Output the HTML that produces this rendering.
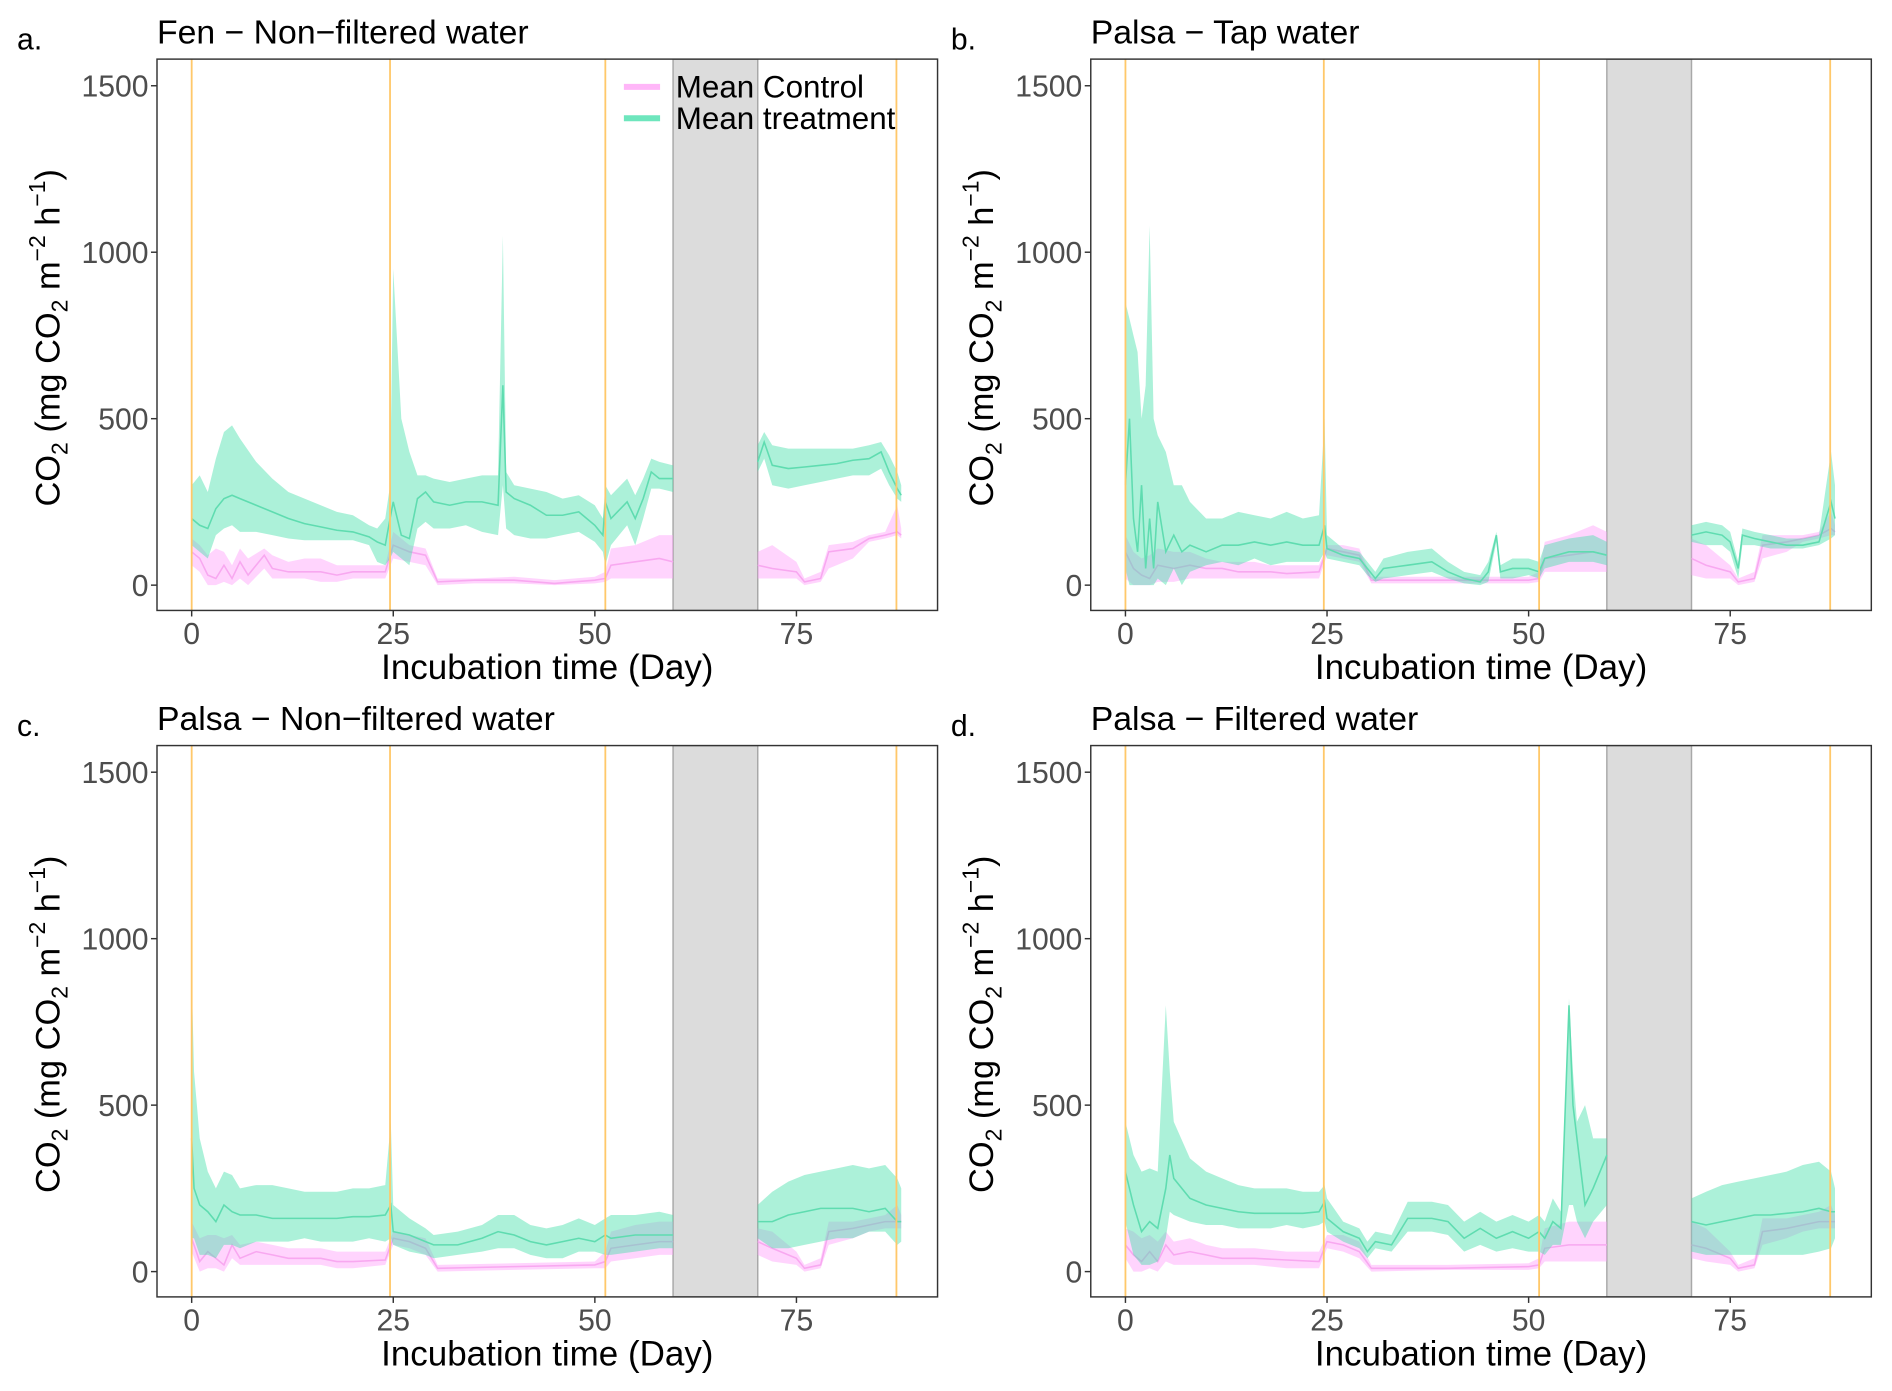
<!DOCTYPE html>
<html><head><meta charset="utf-8"><style>
html,body{margin:0;padding:0;background:#fff}
svg{display:block}
text{font-family:"Liberation Sans",Arial,sans-serif}
</style></head><body>
<svg id="chart" width="1892" height="1391" viewBox="0 0 1568 1153" xmlns="http://www.w3.org/2000/svg"></svg>
<script>
const xTicks=[0,25,50,75];
const yTicks=[0,500,1000,1500];
const yTickLabels=["0","500","1000","1500"];
const eventDays=[0,24.6,51.3,87.4];
const grayBand=[59.7,70.2];
const panelTitles=["Fen \u2212 Non\u2212filtered water","Palsa \u2212 Tap water","Palsa \u2212 Non\u2212filtered water","Palsa \u2212 Filtered water"];
const panelLetters=["a.","b.","c.","d."];

// treatment: [day, mean, lo, hi]; null breaks line at gap
const treatA=[[0,200,120,300],[1,180,100,330],[2,170,80,280],[3,230,150,380],[4,260,170,460],[5,270,180,480],[6,260,160,440],[8,240,160,370],[10,220,150,320],[12,200,140,280],[14,185,135,260],[16,175,135,240],[18,165,135,220],[20,160,135,210],[22,145,120,180],[23,130,70,170],[24,120,60,200],[24.6,200,80,300],[25,250,100,950],[26,150,80,500],[27,140,60,400],[28,260,170,330],[29,280,190,330],[30,250,170,320],[32,240,170,310],[34,250,180,320],[36,250,160,330],[38,240,150,330],[38.6,600,300,1050],[39,280,170,340],[40,260,150,300],[42,240,140,290],[44,210,140,280],[46,210,150,260],[48,220,160,270],[50,180,130,240],[51,150,100,200],[51.3,250,60,300],[52,200,120,270],[54,250,180,320],[55,200,120,270],[56,260,200,320],[57,340,290,380],[58,320,290,370],[59.7,320,280,360],null,[70.2,370,340,420],[71,430,380,460],[72,360,300,420],[74,350,290,410],[76,355,300,410],[78,360,310,410],[80,365,320,410],[82,375,330,410],[84,380,330,420],[85.5,400,350,430],[86.5,340,300,390],[87.5,290,260,340],[88,270,250,300]];
const ctrlA=[[0,100,60,140],[1,80,40,120],[2,30,0,90],[3,20,0,110],[4,60,10,100],[5,20,0,60],[6,70,20,110],[7,30,0,80],[9,90,50,110],[10,50,20,90],[12,40,20,70],[14,40,20,80],[16,40,10,80],[18,30,10,60],[20,40,20,60],[22,40,20,60],[24,40,20,60],[25,120,80,160],[27,100,70,120],[29,90,60,110],[30.5,10,0,20],[35,15,5,20],[40,15,5,25],[45,5,0,15],[50,15,5,25],[51.3,20,10,40],[52,60,20,110],[55,70,20,120],[58,80,20,150],[59.7,70,20,150],null,[70.2,60,20,100],[72,50,20,120],[75,40,20,70],[76,10,0,20],[78,20,10,40],[79,100,50,120],[82,110,80,130],[84,140,130,150],[86,150,140,160],[87.5,160,150,240],[88,150,140,170]];
const treatB=[[0,300,50,850],[0.5,500,0,800],[1,200,0,750],[1.5,100,0,700],[2,300,0,500],[2.5,50,0,600],[3,200,0,1080],[3.5,50,0,500],[4,250,20,450],[5,100,0,400],[6,150,50,300],[7,100,0,300],[8,120,40,250],[10,100,60,200],[12,120,70,200],[14,120,60,220],[16,130,80,210],[18,120,60,200],[20,130,70,220],[22,120,70,200],[24,120,70,210],[24.7,180,100,500],[25,110,80,150],[27,90,70,110],[29,80,60,100],[30,50,30,70],[31,20,10,40],[32,50,20,80],[35,60,30,100],[38,70,40,110],[40,40,20,70],[42,20,5,40],[44,10,0,30],[45,40,10,70],[46,150,130,160],[46.5,40,20,60],[48,50,20,80],[50,50,30,80],[51.3,40,20,70],[52,80,50,120],[55,100,70,140],[58,100,70,150],[59.7,90,60,130],null,[70.2,150,130,180],[72,160,120,190],[74,150,120,180],[75,130,100,160],[76,50,20,70],[76.5,150,120,170],[78,140,120,160],[80,130,110,150],[82,120,110,140],[84,120,110,140],[86,130,120,150],[87.5,250,140,400],[88,200,150,300]];
const ctrlB=[[0,100,20,150],[1,50,0,100],[2,30,0,80],[3,20,0,90],[4,60,10,110],[6,50,10,100],[8,60,20,100],[10,50,20,80],[12,50,20,70],[14,40,20,70],[16,40,20,70],[18,40,20,60],[20,35,20,60],[24,40,20,60],[25,110,90,120],[27,100,80,120],[29,90,70,110],[30.5,15,5,25],[40,15,5,25],[50,15,5,25],[51.3,20,10,40],[52,80,40,130],[55,90,40,150],[58,100,40,180],[59.7,90,40,160],null,[70.2,80,30,140],[72,60,20,120],[75,40,20,60],[76,10,0,20],[78,20,10,40],[79,120,80,150],[82,130,100,150],[84,140,130,150],[86,150,140,160],[87.5,170,150,220],[88,160,150,180]];
const treatC=[[0,400,100,900],[0.3,250,100,600],[1,200,50,400],[2,180,50,300],[3,150,40,250],[4,200,80,300],[5,180,80,290],[6,170,70,250],[8,170,90,260],[10,160,90,260],[12,160,90,250],[14,160,100,240],[16,160,90,240],[18,160,90,240],[20,165,90,250],[22,165,100,250],[24,170,90,260],[24.7,200,100,450],[25,120,80,200],[27,110,60,160],[29,90,50,130],[30,80,40,110],[33,80,50,120],[36,100,60,140],[38,120,70,170],[40,110,70,170],[42,90,50,140],[44,80,40,130],[46,90,40,140],[48,100,60,160],[50,90,60,140],[51.3,110,50,160],[52,100,50,170],[55,110,60,170],[58,110,70,180],[59.7,110,70,170],null,[70.2,150,100,200],[72,150,70,240],[74,170,70,270],[76,180,80,290],[78,190,90,300],[80,190,100,310],[82,190,100,320],[84,180,120,310],[86,190,120,320],[87.5,150,80,280],[88,150,90,250]];
const ctrlC=[[0,100,60,150],[1,30,0,100],[2,60,10,110],[3,40,10,110],[4,20,0,100],[5,80,40,110],[6,40,20,80],[8,60,20,90],[10,50,20,80],[12,40,20,70],[14,40,20,70],[16,40,20,70],[18,30,10,60],[20,30,10,60],[24,35,20,60],[25,100,80,120],[27,90,70,110],[29,70,50,100],[30.5,10,0,20],[40,15,5,25],[50,20,10,30],[51.3,30,10,60],[52,70,30,120],[55,80,40,140],[58,90,50,150],[59.7,90,50,150],null,[70.2,90,50,130],[72,70,30,120],[75,40,20,60],[76,10,0,20],[78,20,10,40],[79,120,80,150],[82,130,100,150],[84,140,120,160],[86,150,130,170],[87.5,150,130,200],[88,150,130,170]];
const treatD=[[0,300,150,450],[1,200,50,350],[2,120,20,300],[3,150,20,310],[4,130,30,300],[5,250,100,800],[5.5,350,180,600],[6,280,170,450],[8,220,150,340],[10,200,140,300],[12,190,140,280],[14,180,130,260],[16,175,130,250],[18,175,130,250],[20,175,140,250],[22,175,130,240],[24,180,140,240],[24.7,210,150,260],[25,160,120,220],[27,120,90,150],[29,100,70,130],[30,60,40,90],[31,90,70,120],[33,80,60,110],[35,160,120,210],[38,160,120,210],[40,150,110,200],[42,100,60,150],[44,130,80,180],[46,100,60,150],[48,120,70,170],[50,100,60,150],[51.3,120,60,170],[52,100,50,150],[53,150,80,220],[54,130,80,180],[55,800,200,820],[55.5,500,200,600],[56,400,150,450],[57,200,100,500],[58,250,150,400],[59.7,350,200,400],null,[70.2,150,60,220],[72,140,50,240],[74,150,50,260],[76,160,50,270],[78,170,50,280],[80,170,50,290],[82,175,50,300],[84,180,50,320],[86,190,60,330],[87.5,180,70,300],[88,180,100,250]];
const ctrlD=[[0,80,40,130],[1,50,0,120],[2,30,0,100],[3,60,10,110],[4,30,0,90],[5,80,30,120],[6,50,20,90],[8,60,20,100],[10,50,20,80],[12,40,20,70],[16,40,20,70],[20,35,10,60],[24,30,10,60],[25,90,70,110],[27,80,60,110],[29,60,40,90],[30.5,10,0,20],[40,10,5,20],[50,15,5,25],[51.3,20,10,40],[52,70,30,130],[55,80,30,150],[58,80,30,150],[59.7,80,30,150],null,[70.2,80,40,150],[72,70,30,130],[75,40,20,60],[76,10,0,20],[78,20,10,40],[79,120,80,160],[82,130,100,160],[84,140,120,170],[86,150,130,180],[87.5,150,130,200],[88,150,130,170]];

const treatSeries=[treatA,treatB,treatC,treatD];
const ctrlSeries=[ctrlA,ctrlB,ctrlC,ctrlD];

const NS="http://www.w3.org/2000/svg";
const svg=document.getElementById('chart');
function mk(tag,attrs,parent){const e=document.createElementNS(NS,tag);for(const k in attrs)e.setAttribute(k,attrs[k]);(parent||svg).appendChild(e);return e;}

const origins=[[0,0],[774,0],[0,569],[774,569]];
const PW=647, PH=457, PL=130, PT=49;
const XMIN=-4.3, XMAX=92.5, YMIN=-76, YMAX=1580;
let prevShift=0;

function segs(arr){const out=[];let cur=[];arr.forEach(p=>{if(p===null){if(cur.length)out.push(cur);cur=[];}else cur.push(p);});if(cur.length)out.push(cur);return out;}

for(let i=0;i<4;i++){
  const [ox,oy]=origins[i];
  const L=ox+PL, T=oy+PT;
  const sx=d=>L+(d-XMIN)/(XMAX-XMIN)*PW;
  const sy=v=>T+(YMAX-v)/(YMAX-YMIN)*PH;
  const g=mk('g',{});
  
  

  const lt=mk('text',{x:ox+14,y:oy+41,'font-size':25,fill:'#000'},g);lt.textContent=panelLetters[i];
  
  
  const tt=mk('text',{x:L,y:oy+36,'font-size':28,fill:'#000'},g);tt.textContent=panelTitles[i];
  
  

  const clipId='clip'+i;
  const cp=mk('clipPath',{id:clipId},g);mk('rect',{x:L,y:T,width:PW,height:PH},cp);
  const pg=mk('g',{'clip-path':'url(#'+clipId+')'},g);

  const band=mk('rect',{x:sx(grayBand[0]),y:T,width:sx(grayBand[1])-sx(grayBand[0]),height:PH,fill:'#dcdcdc',stroke:'#a8a8a8','stroke-width':1.2},pg);
  
  

  const drawSeries=(arr,fill,line,name)=>{
    segs(arr).forEach(s=>{
      let d='M'+s.map(p=>sx(p[0]).toFixed(1)+','+sy(p[3]).toFixed(1)).join('L');
      d+='L'+s.slice().reverse().map(p=>sx(p[0]).toFixed(1)+','+sy(p[2]).toFixed(1)).join('L')+'Z';
      const r=mk('path',{d:d,fill:fill,stroke:'none'},pg);
      
      
      const l=mk('path',{d:'M'+s.map(p=>sx(p[0]).toFixed(1)+','+sy(p[1]).toFixed(1)).join('L'),fill:'none',stroke:line,'stroke-width':1.3},pg);
      
      
    });
  };
  drawSeries(ctrlSeries[i],'rgba(255,160,250,0.45)','#f8a8f0','control');
  drawSeries(treatSeries[i],'rgba(70,225,170,0.45)','#5fdcb0','treatment');

  eventDays.forEach(d=>{
    const v=mk('line',{x1:sx(d),x2:sx(d),y1:T,y2:T+PH,stroke:'#ffc86a','stroke-width':1.5},pg);
    
    
  });

  const fr=mk('rect',{x:L,y:T,width:PW,height:PH,fill:'none',stroke:'#333','stroke-width':1.2},g);
  
  

  yTicks.forEach((v,k)=>{
    mk('line',{x1:L-5,x2:L,y1:sy(v),y2:sy(v),stroke:'#333','stroke-width':1.2},g);
    const t=mk('text',{x:L-7,y:sy(v)+9,'font-size':25,fill:'#4d4d4d','text-anchor':'end'},g);
    t.textContent=yTickLabels[k];
    
    
  });
  xTicks.forEach(v=>{
    mk('line',{x1:sx(v),x2:sx(v),y1:T+PH,y2:T+PH+5,stroke:'#333','stroke-width':1.2},g);
    const t=mk('text',{x:sx(v),y:T+PH+28,'font-size':25,fill:'#4d4d4d','text-anchor':'middle'},g);
    t.textContent=String(v);
    
    
  });
  const xt=mk('text',{x:L+PW/2,y:oy+563,'font-size':29,fill:'#000','text-anchor':'middle'},g);
  xt.textContent='Incubation time (Day)';
  
  

  const yt=mk('text',{transform:'translate('+(ox+49)+','+(oy+280)+') rotate(-90)','font-size':28.5,fill:'#000','text-anchor':'middle'},g);
  
  
  const parts=[['CO',0],['2',1],[' (mg CO',0],['2',1],[' m',0],['\u22122',2],[' h',0],['\u22121',2],[')',0]];
  prevShift=0;
  parts.forEach(p=>{const s=mk('tspan',{},yt);s.textContent=p[0];
    if(p[1]===1){s.setAttribute('font-size',19);s.setAttribute('dy',7);}
    else if(p[1]===2){s.setAttribute('font-size',19);s.setAttribute('dy',-12);}
    else{s.setAttribute('dy',prevShift);}
    prevShift=p[1]===1?-7:(p[1]===2?12:0);
  });
}

// legend in panel a
const lg=mk('g',{});


[['Mean Control','#ffb6f8',72],['Mean treatment','#6ee6bd',98]].forEach(e=>{
  mk('line',{x1:517,x2:547,y1:e[2],y2:e[2],stroke:e[1],'stroke-width':5},lg);
  const t=mk('text',{x:560,y:e[2]+9,'font-size':26,fill:'#000'},lg);
  t.textContent=e[0];
  
  
});
</script>
</body></html>
